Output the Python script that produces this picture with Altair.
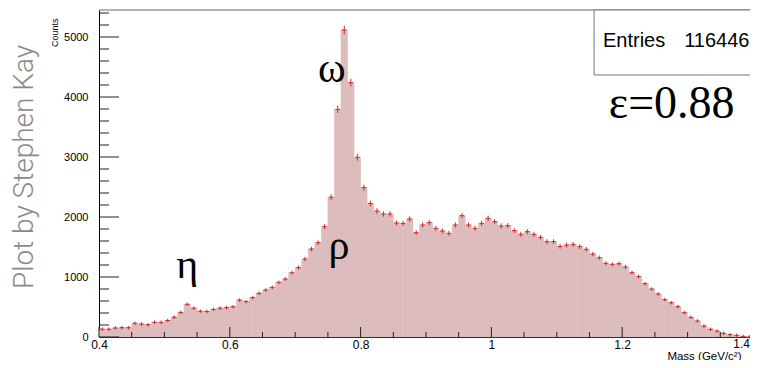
import altair as alt
import pandas as pd

# ---- histogram data (bins of 0.01 GeV from 0.40 to 1.40) ----
bin_lo = [round(0.40 + 0.01 * i, 2) for i in range(100)]
counts = [
    130, 130, 150, 155, 155, 228, 215, 205, 245, 245,
    275, 330, 410, 545, 480, 430, 425, 460, 480, 490,
    505, 615, 590, 656, 728, 783, 828, 911, 967, 1072,
    1156, 1300, 1467, 1572, 1839, 2330, 3794, 5117, 4239, 2994,
    2490, 2225, 2100, 2050, 2050, 1900, 1894, 1967, 1739, 1867,
    1906, 1811, 1767, 1728, 1867, 2022, 1867, 1811, 1894, 1978,
    1922, 1850, 1856, 1772, 1711, 1756, 1711, 1661, 1589, 1589,
    1510, 1533, 1544, 1506, 1461, 1383, 1322, 1228, 1211, 1222,
    1167, 1072, 1006, 889, 800, 717, 622, 572, 506, 406,
    328, 267, 183, 128, 100, 61, 39, 28, 10, 3,
]

x_major = [0.4, 0.6, 0.8, 1.0, 1.2, 1.4]
x_label_vals = [0.4, 0.6, 0.8, 1.0, 1.2]
x_last_label = ["1.4"]
x_last_val = [1.4]
x_minor = [0.45, 0.5, 0.55, 0.65, 0.7, 0.75, 0.85, 0.9, 0.95,
           1.05, 1.1, 1.15, 1.25, 1.3, 1.35]
y_major = [0, 1000, 2000, 3000, 4000, 5000]
y_minor = [v for v in range(200, 5450, 200) if v % 1000]

particle_labels = ["ω", "ρ", "η"]
particle_x = [0.756, 0.767, 0.535]
particle_y = [4250, 1300, 983]

eff_label = ["ε=0.88"]
eff_x = [1.2757]
eff_y = [3650]

stat_name = ["Entries"]
stat_value = ["116446"]
stat_name_x = [1.1706]
stat_value_x = [1.3945]
stat_y = [4833]
box_x0, box_x1 = [1.157], [1.45]
box_y0, box_y1 = [4367], [5450]

W, H = 654, 327
YMAX = 5450
FONT = "Liberation Sans"
SERIF = "Liberation Serif"

df = pd.DataFrame({"lo": bin_lo, "c": counts})
df["hi"] = df["lo"] + 0.01
df["z"] = 0

xs = alt.Scale(domain=[0.4, 1.4], nice=False, zero=False)
ys = alt.Scale(domain=[0, YMAX], nice=False)

x_axis = alt.Axis(values=x_label_vals, format="~g", ticks=False, grid=False,
                  domain=True, domainColor="#000", domainWidth=1,
                  labelFont=FONT, labelFontSize=12, labelColor="#000", labelPadding=2,
                  labelFlush=False,
                  title="Mass (GeV/c²)", titleFont=FONT, titleFontSize=11.5,
                  titleFontWeight="normal", titleColor="#000",
                  titleX=W - 12, titleY=22, titleAlign="right",
                  titleBaseline="alphabetic")
y_axis = alt.Axis(values=y_major, format="d", ticks=False, grid=False,
                  domain=True, domainColor="#000", domainWidth=1,
                  labelFont=FONT, labelFontSize=11, labelColor="#000", labelPadding=11,
                  title="Counts", titleFont=FONT, titleFontSize=9,
                  titleFontWeight="normal", titleColor="#000",
                  titleAngle=270, titleAlign="right",
                  titleBaseline="alphabetic", titleX=-42, titleY=8)

base = alt.Chart(df)

bars = base.mark_rect(fill="#dcbcbc", stroke="#d8b6b6", strokeWidth=0.5).encode(
    x=alt.X("lo:Q", scale=xs, axis=x_axis),
    x2="hi:Q",
    y=alt.Y("c:Q", scale=ys, axis=y_axis),
    y2="z:Q",
)

err = base.transform_calculate(
    mid="datum.lo + 0.005",
    xl="datum.lo + 0.0015",
    xr="datum.lo + 0.0085",
    e="max(sqrt(datum.c), 30)",
    elo="datum.c - datum.e",
    ehi="datum.c + datum.e",
)
hbar = err.mark_rule(color="#d42a2a", strokeWidth=1).encode(
    x=alt.X("xl:Q", scale=xs, axis=x_axis), x2="xr:Q",
    y=alt.Y("c:Q", scale=ys, axis=y_axis))
vbar = err.mark_rule(color="#d42a2a", strokeWidth=1).encode(
    x=alt.X("mid:Q", scale=xs, axis=x_axis),
    y=alt.Y("elo:Q", scale=ys, axis=y_axis), y2="ehi:Q")

def xticks(vals, length):
    return alt.Chart(pd.DataFrame({"v": vals})).mark_rule(color="#222", strokeWidth=1).encode(
        x=alt.X("v:Q", scale=xs, axis=x_axis),
        y=alt.value(H), y2=alt.value(H - length))

def yticks(vals, length):
    return alt.Chart(pd.DataFrame({"v": vals})).mark_rule(color="#222", strokeWidth=1).encode(
        y=alt.Y("v:Q", scale=ys, axis=y_axis),
        x=alt.value(0), x2=alt.value(length))

last_label = alt.Chart(pd.DataFrame({"t": x_last_label, "v": x_last_val})).mark_text(
    font=FONT, fontSize=12, align="right", baseline="top", color="#000", dx=-3).encode(
    x=alt.X("v:Q", scale=xs, axis=x_axis), y=alt.value(H + 2), text="t:N")

top_line = alt.Chart(pd.DataFrame({"a": [0]})).mark_rule(color="#666", strokeWidth=1).encode(
    x=alt.value(0), x2=alt.value(W + 6), y=alt.value(0))

ann = alt.Chart(pd.DataFrame({"t": particle_labels, "x": particle_x, "y": particle_y})).mark_text(
    font=SERIF, fontSize=42, align="center", baseline="alphabetic", color="#000").encode(
    x=alt.X("x:Q", scale=xs, axis=x_axis), y=alt.Y("y:Q", scale=ys, axis=y_axis), text="t:N")

eff = alt.Chart(pd.DataFrame({"t": eff_label, "x": eff_x, "y": eff_y})).mark_text(
    font=SERIF, fontSize=46, align="center", baseline="alphabetic", color="#000").encode(
    x=alt.X("x:Q", scale=xs, axis=x_axis), y=alt.Y("y:Q", scale=ys, axis=y_axis), text="t:N")

box = alt.Chart(pd.DataFrame({"x0": box_x0, "x1": box_x1, "y0": box_y0, "y1": box_y1})).mark_rect(
    fill="white", stroke="#777", strokeWidth=1).encode(
    x=alt.X("x0:Q", scale=xs, axis=x_axis), x2="x1:Q",
    y=alt.Y("y0:Q", scale=ys, axis=y_axis), y2="y1:Q")

stat_df = pd.DataFrame({"n": stat_name, "v": stat_value, "nx": stat_name_x,
                        "vx": stat_value_x, "y": stat_y})
stat_n = alt.Chart(stat_df).mark_text(font=FONT, fontSize=20, align="left",
                                      baseline="alphabetic", color="#000").encode(
    x=alt.X("nx:Q", scale=xs, axis=x_axis), y=alt.Y("y:Q", scale=ys, axis=y_axis), text="n:N")
stat_v = alt.Chart(stat_df).mark_text(font=FONT, fontSize=20, align="right",
                                      baseline="alphabetic", color="#000").encode(
    x=alt.X("vx:Q", scale=xs, axis=x_axis), y=alt.Y("y:Q", scale=ys, axis=y_axis), text="v:N")

credit = alt.Chart(pd.DataFrame({"t": ["Plot by Stephen Kay"]})).mark_text(
    font="Roboto", fontWeight=300, fontSize=28, angle=270, align="center",
    baseline="middle", color="#8a8a8a").encode(
    x=alt.value(-74), y=alt.value(157), text="t:N")

chart = alt.layer(
    bars, hbar, vbar,
    xticks(x_major, 10), xticks(x_minor, 5),
    yticks(y_major, 20), yticks(y_minor, 10),
    last_label, top_line, ann, eff, box, stat_n, stat_v, credit,
).properties(
    width=W, height=H,
    autosize=alt.AutoSizeParams(type="none"),
    padding={"left": 91, "top": 2, "right": -3, "bottom": 23},
    background="white",
).configure_view(stroke=None)

chart.save("out.html", embed_options={"renderer": "svg", "actions": False})
